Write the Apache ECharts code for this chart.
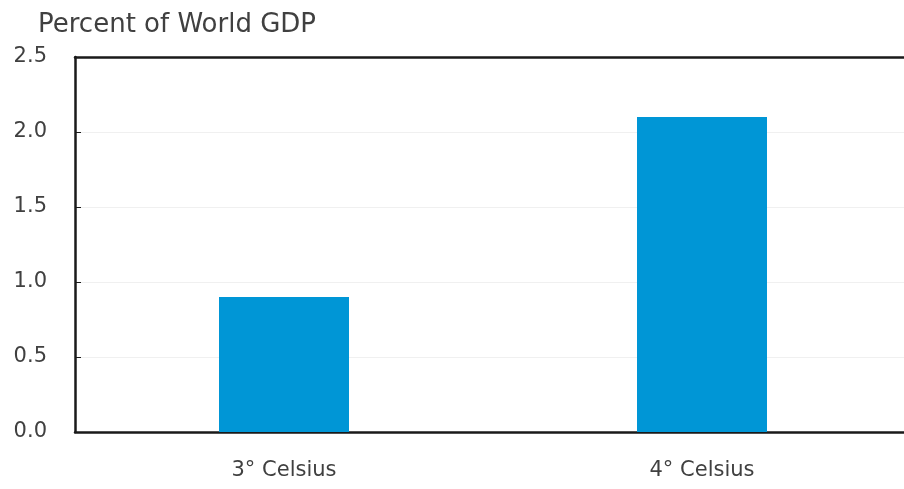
<!DOCTYPE html>
<html>
<head>
<meta charset="utf-8">
<style>
  html, body { margin: 0; padding: 0; background: #fff; }
  #chart { width: 904px; height: 489px; }
</style>
<script src="https://cdn.jsdelivr.net/npm/echarts@6/dist/echarts.min.js"></script>
</head>
<body>
<div id="chart"></div>
<script>
// Warming scenarios and projected losses, percent of world GDP
const categories = ['3° Celsius', '4° Celsius'];
const gdpLoss = [0.9, 2.1];
const yTicks = { min: 0, max: 2.5, interval: 0.5 };

const FONT = '"DejaVu Sans", "Open Sans", sans-serif';
const TEXT = '#404040';
const FRAME = '#1a1a1a';

const chart = echarts.init(document.getElementById('chart'));
chart.setOption({
  animation: false,
  backgroundColor: '#ffffff',
  title: {
    text: 'Percent of World GDP',
    left: 33,
    top: 7,
    textStyle: { fontFamily: FONT, fontSize: 26, fontWeight: 'normal', color: TEXT }
  },
  grid: {
    left: 75,
    top: 57,
    width: 836,
    height: 375,
    outerBoundsMode: 'none',
    containLabel: false
  },
  xAxis: [{
    type: 'category',
    data: categories,
    axisLine: { show: true, lineStyle: { color: FRAME, width: 2.5 } },
    axisTick: { show: false },
    axisLabel: { fontFamily: FONT, fontSize: 21, color: TEXT, margin: 28 }
  }, {
    // top frame line
    type: 'category',
    data: categories,
    position: 'top',
    axisLine: { show: true, lineStyle: { color: FRAME, width: 2.5 } },
    axisTick: { show: false },
    axisLabel: { show: false },
    splitLine: { show: false }
  }],
  yAxis: {
    type: 'value',
    min: yTicks.min,
    max: yTicks.max,
    interval: yTicks.interval,
    axisLine: { show: true, lineStyle: { color: FRAME, width: 2.5 } },
    axisTick: { show: true, inside: true, length: 6, lineStyle: { color: FRAME, width: 1 } },
    splitLine: { show: true, lineStyle: { color: '#f0f0f0', width: 1 } },
    axisLabel: {
      fontFamily: FONT, fontSize: 21, color: TEXT, margin: 28,
      formatter: v => v.toFixed(1)
    }
  },
  series: [{
    type: 'bar',
    xAxisIndex: 0,
    data: gdpLoss,
    barWidth: 130,
    itemStyle: { color: '#0096d6' }
  }]
});
</script>
</body>
</html>
